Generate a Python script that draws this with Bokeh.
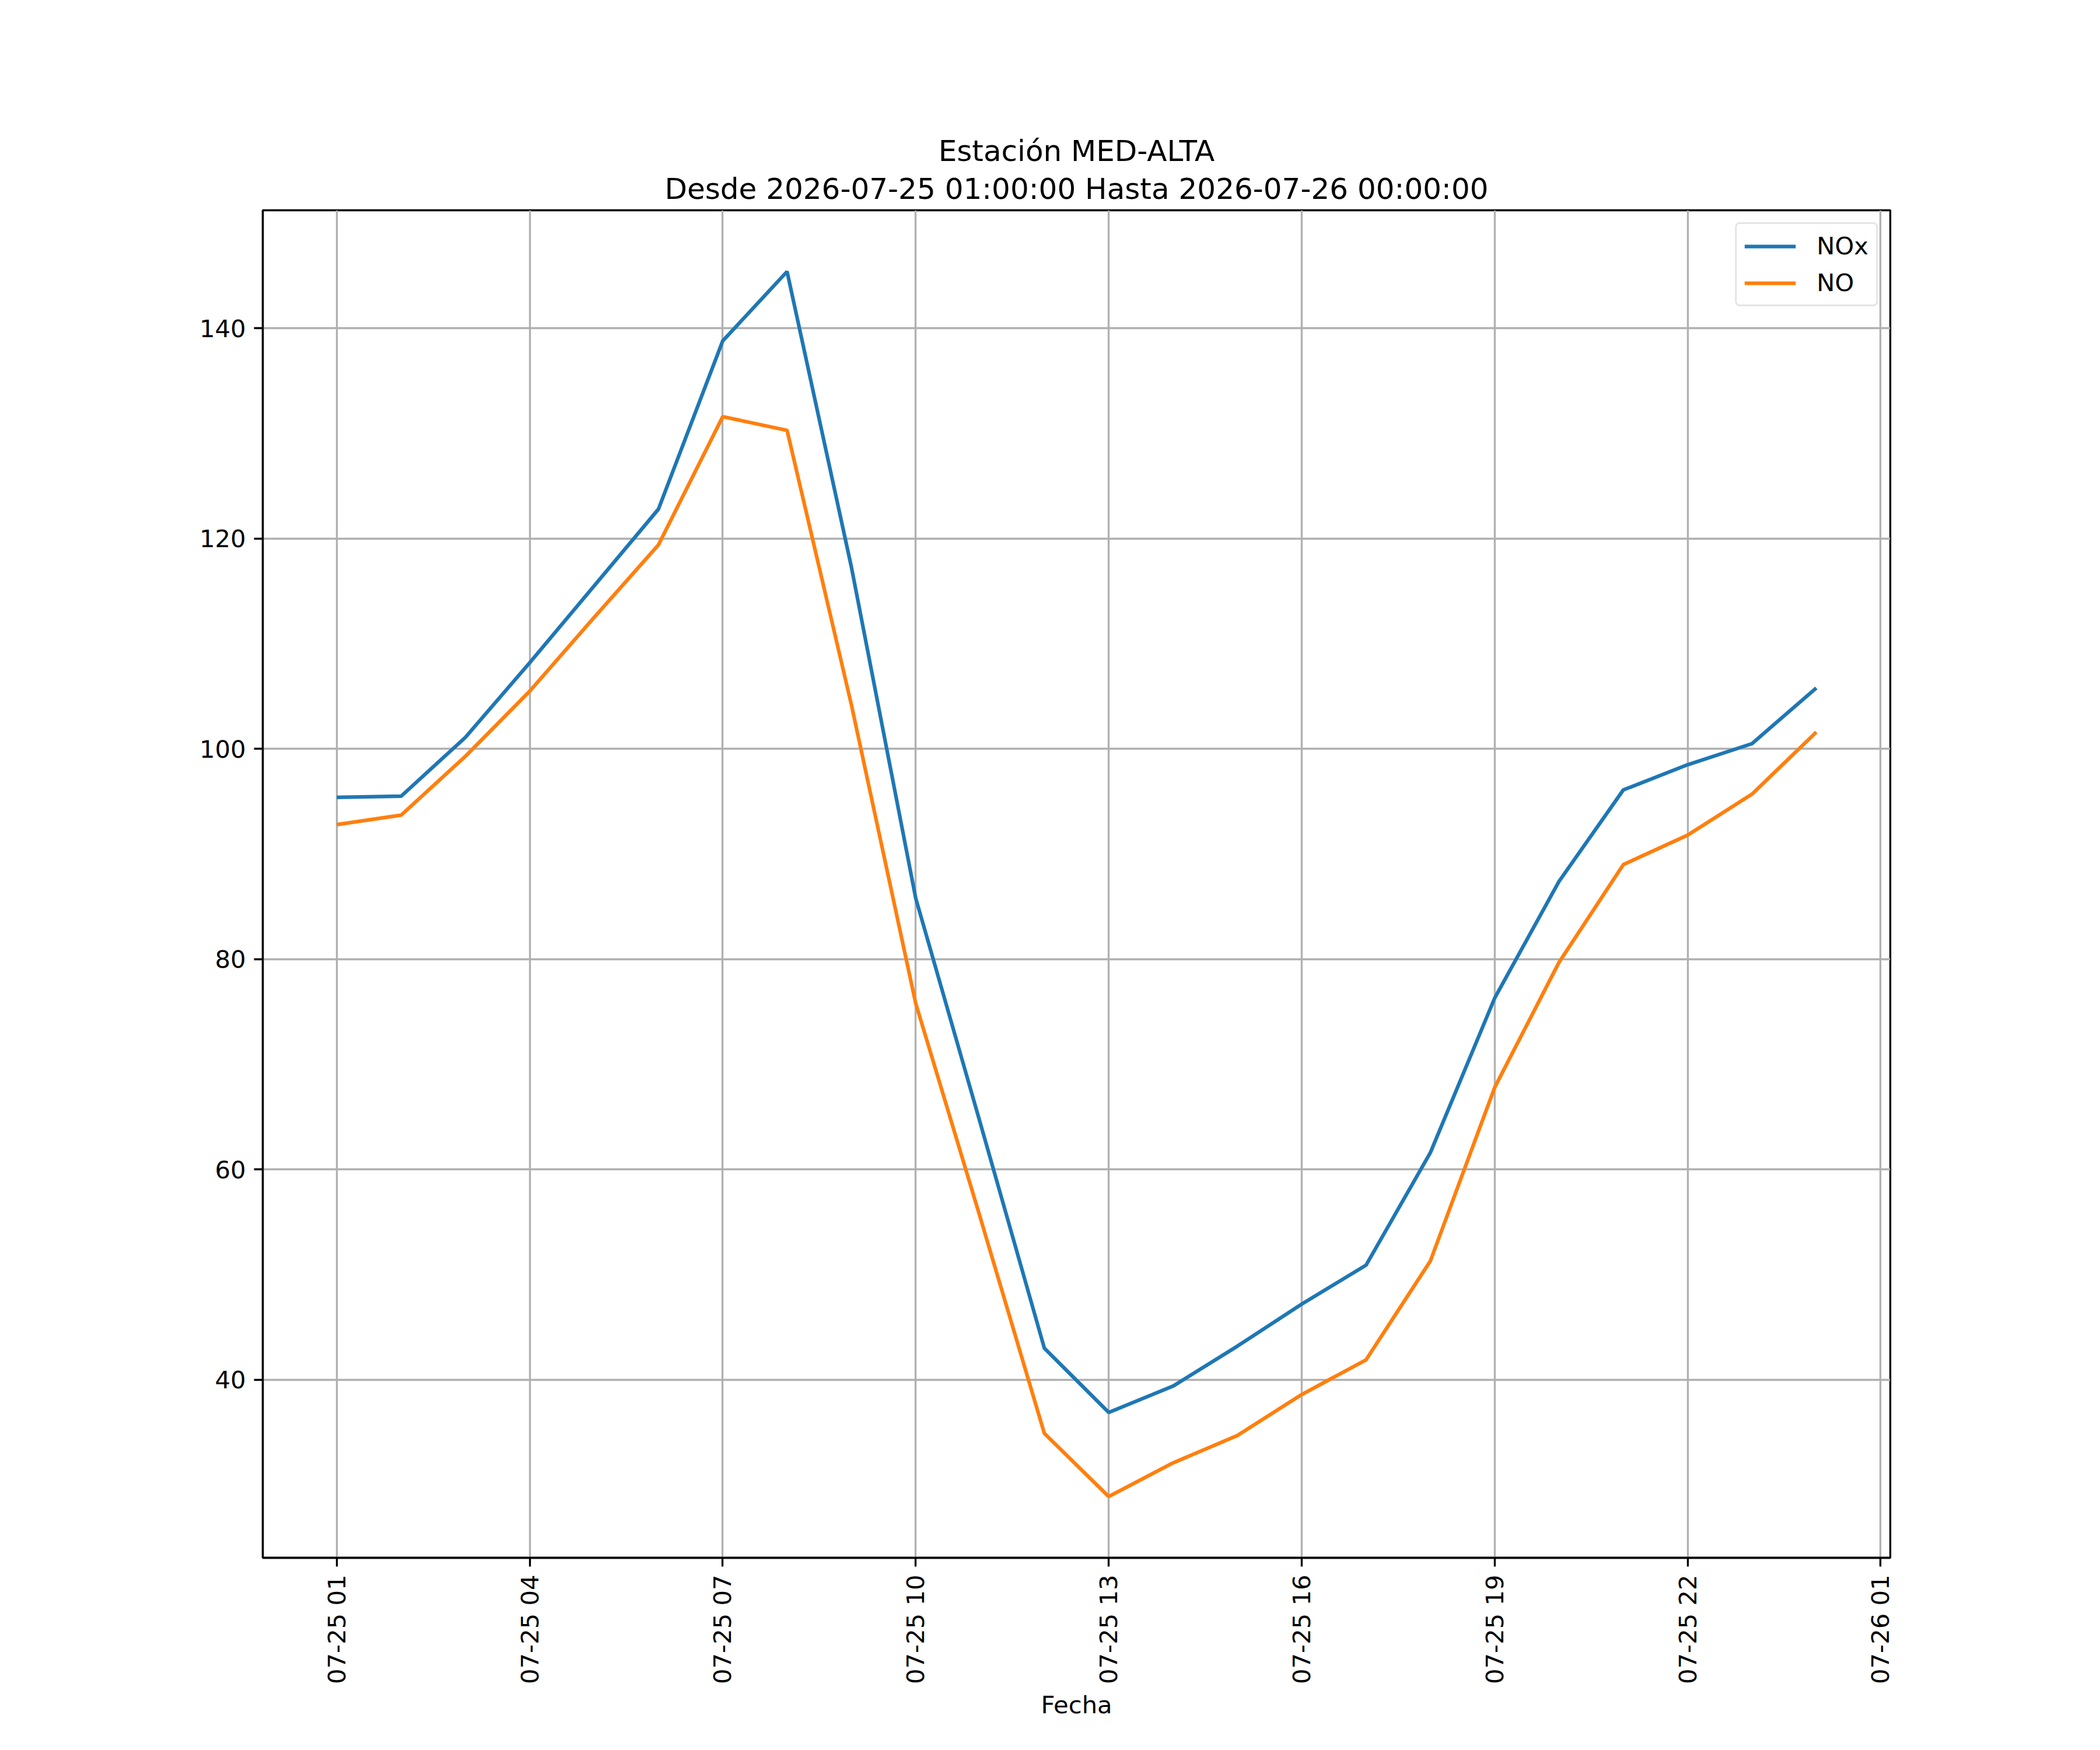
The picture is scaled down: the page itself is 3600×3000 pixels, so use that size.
import math
import pandas as pd
from bokeh.plotting import figure
from bokeh.models import (Range1d, FixedTicker, DatetimeTickFormatter, Title,
                          ColumnDataSource, Legend, LegendItem)
from bokeh.embed import file_html
from bokeh.resources import INLINE

# ---------------- data ----------------
station = "MED-ALTA"
start_txt = "2026-07-25 01:00:00"
end_txt = "2026-07-26 00:00:00"
fecha = pd.date_range("2026-07-25 01:00", "2026-07-26 00:00", freq="h")

nox = [95.4, 95.5, 101.1, 108.2, 115.5, 122.8, 138.8, 145.4, 117.3, 85.8,
       64.5, 43.0, 36.9, 39.4, 43.2, 47.2, 50.9, 61.6, 76.3, 87.4,
       96.1, 98.5, 100.5, 105.8]
no = [92.8, 93.7, 99.3, 105.5, 112.5, 119.4, 131.6, 130.3, 104.2, 75.8,
      55.5, 34.9, 28.9, 32.1, 34.7, 38.6, 41.9, 51.3, 67.8, 79.7,
      89.0, 91.8, 95.7, 101.6]

x_ticks = pd.date_range("2026-07-25 01:00", "2026-07-26 01:00", freq="3h")
y_ticks = [40, 60, 80, 100, 120, 140]

series_names = ["NOx", "NO"]
series_colors = ["#1f77b4", "#ff7f0e"]

# ---------------- figure ----------------
FONT = "DejaVu Sans"
LW = 3.33

span = fecha[-1] - fecha[0]
x_start = fecha[0] - span * 0.05
x_end = fecha[-1] + span * 0.05
ymin = min(min(nox), min(no))
ymax = max(max(nox), max(no))
yr = ymax - ymin

p = figure(
    output_backend="svg", toolbar_location=None,
    frame_width=2790, frame_height=2310,
    min_border_left=450, min_border_right=350,
    min_border_top=360, min_border_bottom=322,
    x_range=Range1d(x_start, x_end),
    y_range=Range1d(ymin - 0.05 * yr, ymax + 0.05 * yr),
    x_axis_type="datetime",
    background_fill_color="white", border_fill_color="white",
)

# two-line title
t2 = Title(text=f"Desde {start_txt} Hasta {end_txt}", align="center",
           text_font=FONT, text_font_size="50px", text_font_style="normal",
           text_color="black", standoff=16)
t1 = Title(text=f"Estación {station}", align="center",
           text_font=FONT, text_font_size="50px", text_font_style="normal",
           text_color="black", standoff=-7)
p.add_layout(t2, "above")
p.add_layout(t1, "above")

p.outline_line_color = "black"
p.outline_line_width = LW

src = ColumnDataSource(dict(fecha=fecha, nox=nox, no=no))
r1 = p.line("fecha", "nox", source=src, line_color=series_colors[0], line_width=6.25)
r2 = p.line("fecha", "no", source=src, line_color=series_colors[1], line_width=6.25)

# axes
xa = p.xaxis[0]
ya = p.yaxis[0]
xa.ticker = FixedTicker(ticks=[t.value // 10**6 for t in x_ticks])
fmt = "%m-%d %H"
xa.formatter = DatetimeTickFormatter(microseconds=fmt, milliseconds=fmt, seconds=fmt,
                                     minsec=fmt, minutes=fmt, hourmin=fmt, hours=fmt,
                                     days=fmt, months=fmt, years=fmt)
xa.major_label_orientation = math.pi / 2
ya.ticker = FixedTicker(ticks=y_ticks)

for ax in (xa, ya):
    ax.axis_line_color = "black"
    ax.axis_line_width = LW
    ax.major_tick_line_color = "black"
    ax.major_tick_line_width = LW
    ax.major_tick_out = 15
    ax.major_tick_in = 0
    ax.minor_tick_line_color = None
    ax.major_label_text_font = FONT
    ax.major_label_text_font_size = "41.7px"
    ax.major_label_text_color = "black"
    ax.major_label_standoff = 14

xa.axis_label = "Fecha"
xa.axis_label_text_font = FONT
xa.axis_label_text_font_size = "41.7px"
xa.axis_label_text_font_style = "normal"
xa.axis_label_text_color = "black"
xa.axis_label_standoff = 8

for g in (p.xgrid[0], p.ygrid[0]):
    g.grid_line_color = "#b0b0b0"
    g.grid_line_width = LW

legend = Legend(items=[LegendItem(label=series_names[0], renderers=[r1]),
                       LegendItem(label=series_names[1], renderers=[r2])],
                location="top_right")
legend.margin = 21
legend.padding = 13
legend.spacing = 14
legend.glyph_width = 88
legend.glyph_height = 42
legend.label_height = 42
legend.label_standoff = 36
legend.label_text_font = FONT
legend.label_text_font_size = "41.7px"
legend.label_text_color = "black"
legend.label_text_baseline = "middle"
legend.border_line_color = "#cccccc"
legend.border_line_width = LW
legend.background_fill_color = "white"
legend.background_fill_alpha = 0.8
if "border_radius" in Legend.properties():
    legend.border_radius = 8
p.add_layout(legend, "center")

open("out.html", "w").write(file_html(p, INLINE))
